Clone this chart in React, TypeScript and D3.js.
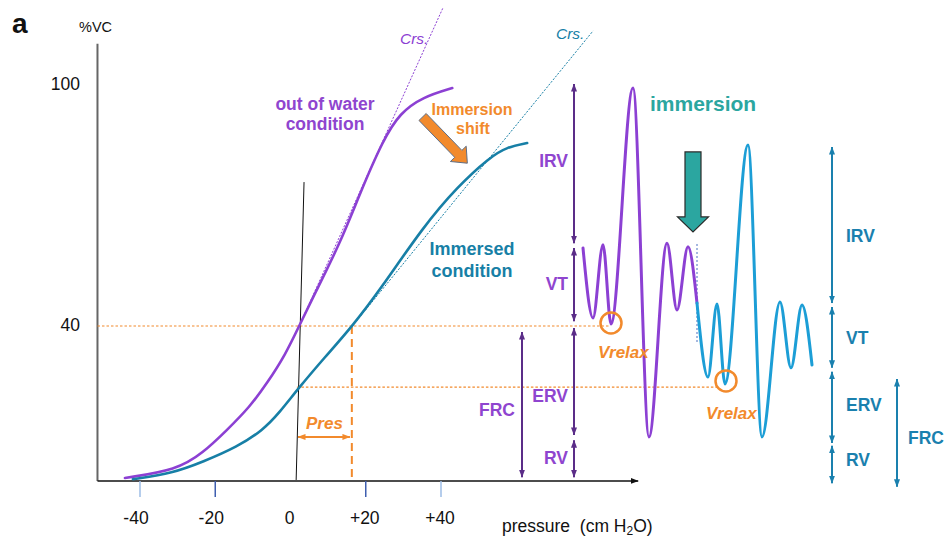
import React from 'react';
import * as d3 from 'd3';

// ---------- data ----------
const PRESSURE_OUT = [-44.0, -30.2, -23.3, -16.9, -10.8, -6.2, -1.4, 2.3, 6.0, 13.2, 18.5, 24.6, 29.1, 35.2, 43.0];
const VOLUME_OUT = [2.0, 4.0, 8.2, 13.9, 19.7, 25.6, 32.6, 39.8, 47.0, 60.4, 72.9, 86.1, 92.8, 96.8, 99.0];
const PRESSURE_IMM = [-41.9, -31.2, -23.3, -14.2, -7.3, -2.8, 2.0, 9.0, 16.3, 23.8, 35.2, 44.3, 53.0, 57.5, 62.9];
const VOLUME_IMM = [1.7, 3.2, 6.0, 9.7, 13.9, 18.4, 24.2, 31.9, 39.6, 48.8, 64.4, 74.4, 81.8, 84.3, 85.3];

const CRS_OUT_P = [2.3, 40.5];
const CRS_OUT_V = [39.8, 118.9];
const CRS_IMM_P = [16.3, 80.4];
const CRS_IMM_V = [39.6, 113.2];
const ZERO_LINE_P = [1.5, 3.6];
const ZERO_LINE_V = [1.5, 75.6];

const X_TICKS = [-40, -20, 20, 40];
const X_TICK_LABEL_VALUES = [-40, -20, 0, 20, 40];
const X_TICK_LABELS = ['-40', '-20', '0', '+20', '+40'];
const Y_TICKS = [40, 100];
const Y_TICK_LABELS = ['40', '100'];

// spirogram (time in arbitrary units, volume in %VC)
const SPIRO_OUT_T = [0, 1.0, 2.0, 2.8, 5.0, 6.6, 8.4, 9.4, 10.5, 11.4];
const SPIRO_OUT_V = [59.2, 41.8, 60.0, 40.3, 99.0, 12.2, 60.4, 43.8, 59.5, 45.5];
const SPIRO_IMM_T = [11.4, 12.5, 13.4, 14.2, 16.5, 17.9, 19.7, 20.8, 21.9, 22.9];
const SPIRO_IMM_V = [45.5, 27.1, 45.3, 25.4, 84.8, 12.2, 45.8, 29.4, 45.0, 30.1];

const VRELAX_OUT = { t: 2.8, v: 40.3 };
const VRELAX_IMM = { t: 14.2, v: 25.4 };
const RELAX_LEVEL_OUT = 39.8;
const RELAX_LEVEL_IMM = 24.6;
const PRES_P = [2.0, 15.8];
const PRES_V = 12.2;

const VOL_LABELS_OUT = ['IRV', 'VT', 'ERV', 'RV'];
const VOL_FROM_OUT = [100, 59.2, 39.3, 11.4];
const VOL_TO_OUT = [60.4, 41.0, 12.7, 2.2];
const FRC_OUT = [38.3, 2.2];
const VOL_LABELS_IMM = ['IRV', 'VT', 'ERV', 'RV'];
const VOL_FROM_IMM = [84.3, 44.5, 28.4, 10.0];
const VOL_TO_IMM = [45.5, 29.4, 10.7, 0.7];
const FRC_IMM = [26.6, -0.2];

// ---------- style ----------
const PURPLE = '#8C40D3';
const PURPLE_TXT = '#8F45CF';
const PURPLE_DARK = '#5B2D88';
const TEAL = '#177FA6';
const BLUE_SPIRO = '#1C9ED6';
const BLUE_TXT = '#1A80AE';
const ORANGE = '#F28A2C';
const IMM_GREEN = '#2BA6A0';
const FONT = '"Liberation Sans", Arial, Helvetica, sans-serif';

const W = 951;
const H = 541;

const xScale = d3.scaleLinear().domain([-40, 40]).range([140, 441]);
const yScale = d3.scaleLinear().domain([0, 100]).range([486, 84]);
const tScale = d3.scaleLinear().domain([0, 23]).range([583, 813]);

const AXIS_LEFT_P = -51.3;
const AXIS_RIGHT_P = 92.4;
const AXIS_BASE_V = 1.25;
const AXIS_TOP_V = 110;

function blockArrow(x0: number, y0: number, x1: number, y1: number, hw: number, hh: number, hl: number) {
  const dx = x1 - x0, dy = y1 - y0;
  const len = Math.hypot(dx, dy);
  const ux = dx / len, uy = dy / len;
  const nx = -uy, ny = ux;
  const bx = x1 - ux * hl, by = y1 - uy * hl;
  const pts = [
    [x0 + nx * hw, y0 + ny * hw],
    [bx + nx * hw, by + ny * hw],
    [bx + nx * hh, by + ny * hh],
    [x1, y1],
    [bx - nx * hh, by - ny * hh],
    [bx - nx * hw, by - ny * hw],
    [x0 - nx * hw, y0 - ny * hw],
  ];
  return 'M' + pts.map((p) => p.join(',')).join('L') + 'Z';
}

function mkPath(ps: number[], vs: number[], xs: (n: number) => number, curve: d3.CurveFactory) {
  return (
    d3
      .line<[number, number]>()
      .x((d) => xs(d[0]))
      .y((d) => yScale(d[1]))
      .curve(curve)(ps.map((p, i) => [p, vs[i]] as [number, number])) || ''
  );
}

export default function App() {
  const outPath = mkPath(PRESSURE_OUT, VOLUME_OUT, xScale, d3.curveBasis);
  const immPath = mkPath(PRESSURE_IMM, VOLUME_IMM, xScale, d3.curveBasis);
  const spiroOut = mkPath(SPIRO_OUT_T, SPIRO_OUT_V, tScale, d3.curveMonotoneX);
  const spiroImm = mkPath(SPIRO_IMM_T, SPIRO_IMM_V, tScale, d3.curveMonotoneX);

  const axisY = yScale(AXIS_BASE_V);
  const axisX = xScale(AXIS_LEFT_P);

  const measX_out = tScale(-0.9);
  const frcX_out = tScale(-6.1);
  const measX_imm = tScale(24.9);
  const frcX_imm = tScale(31.4);
  const outLabelDy = [-3, -1, 15, -1];
  const immLabelDy = [11, 1, -2, -4];

  const orangeArrow = blockArrow(xScale(35.1), yScale(91.8), xScale(47.0), yScale(80.3), 5, 11, 13);
  const tealArrow = blockArrow(tScale(11.0), yScale(83.1), tScale(11.0), yScale(63.2), 8, 15.5, 15);

  const bold = { fontFamily: FONT, fontWeight: 700 } as const;

  return (
    <svg
      width={W}
      height={H}
      viewBox={`0 0 ${W} ${H}`}
      style={{ position: 'absolute', left: 0, top: 0, background: '#fff' }}
    >
      <defs>
        {[
          ['ah-pd', PURPLE_DARK],
          ['ah-b', BLUE_TXT],
          ['ah-o', ORANGE],
          ['ah-k', '#111'],
        ].map(([id, c]) => (
          <marker
            key={id}
            id={id}
            viewBox="0 0 8 6"
            refX={7.5}
            refY={3}
            markerWidth={8}
            markerHeight={6}
            markerUnits="userSpaceOnUse"
            orient="auto-start-reverse"
          >
            <path d="M0,0 L8,3 L0,6 Z" fill={c} />
          </marker>
        ))}
      </defs>

      {/* panel letter */}
      <text x={12} y={33} style={{ ...bold, fontSize: 28 }} fill="#111">a</text>

      {/* axes */}
      <line x1={axisX} x2={axisX} y1={yScale(AXIS_TOP_V)} y2={axisY} stroke="#666" strokeWidth={2} />
      <line
        x1={axisX}
        x2={xScale(AXIS_RIGHT_P)}
        y1={axisY}
        y2={axisY}
        stroke="#111"
        strokeWidth={1.5}
        markerEnd="url(#ah-k)"
      />
      <text x={79} y={27} dominantBaseline="central" style={{ fontFamily: FONT, fontSize: 14.5 }} fill="#111">%VC</text>
      {Y_TICKS.map((v, i) => (
        <text
          key={v}
          x={80}
          y={yScale(v)}
          textAnchor="end"
          dominantBaseline="central"
          style={{ fontFamily: FONT, fontSize: 17.5 }}
          fill="#111"
        >
          {Y_TICK_LABELS[i]}
        </text>
      ))}
      {X_TICKS.map((p) => (
        <line
          key={p}
          x1={xScale(p)}
          x2={xScale(p)}
          y1={axisY}
          y2={axisY + 16}
          stroke={Math.abs(p) === 40 ? '#9DBDE6' : '#3F5FAF'}
          strokeWidth={1.5}
        />
      ))}
      {X_TICK_LABEL_VALUES.map((p, i) => (
        <text
          key={p}
          x={xScale(p) - (p < 0 ? 4 : 1)}
          y={518}
          textAnchor="middle"
          dominantBaseline="central"
          style={{ fontFamily: FONT, fontSize: 17.5 }}
          fill="#111"
        >
          {X_TICK_LABELS[i]}
        </text>
      ))}
      <text x={502} y={526} dominantBaseline="central" style={{ fontFamily: FONT, fontSize: 17.5 }} fill="#111">
        pressure{'\u00A0\u00A0'}(cm H<tspan fontSize={12} dy={5}>2</tspan><tspan dy={-5}>O)</tspan>
      </text>

      {/* guide lines */}
      <line
        x1={axisX}
        x2={tScale(VRELAX_OUT.t) - 1}
        y1={yScale(RELAX_LEVEL_OUT)}
        y2={yScale(RELAX_LEVEL_OUT)}
        stroke={ORANGE}
        strokeWidth={1.2}
        strokeDasharray="2.5,2"
      />
      <line
        x1={xScale(1.7)}
        x2={tScale(VRELAX_IMM.t) - 8}
        y1={yScale(RELAX_LEVEL_IMM)}
        y2={yScale(RELAX_LEVEL_IMM)}
        stroke={ORANGE}
        strokeWidth={1.2}
        strokeDasharray="2.5,2"
      />
      <line
        x1={xScale(16.3)}
        x2={xScale(16.3)}
        y1={yScale(RELAX_LEVEL_OUT)}
        y2={axisY}
        stroke={ORANGE}
        strokeWidth={2}
        strokeDasharray="8,5"
      />
      <line
        x1={xScale(ZERO_LINE_P[0])}
        x2={xScale(ZERO_LINE_P[1])}
        y1={yScale(ZERO_LINE_V[0])}
        y2={yScale(ZERO_LINE_V[1])}
        stroke="#111"
        strokeWidth={1}
      />

      {/* Crs tangents */}
      <line
        x1={xScale(CRS_OUT_P[0])}
        x2={xScale(CRS_OUT_P[1])}
        y1={yScale(CRS_OUT_V[0])}
        y2={yScale(CRS_OUT_V[1])}
        stroke={PURPLE}
        strokeWidth={1}
        strokeDasharray="2,1.5"
      />
      <line
        x1={xScale(CRS_IMM_P[0])}
        x2={xScale(CRS_IMM_P[1])}
        y1={yScale(CRS_IMM_V[0])}
        y2={yScale(CRS_IMM_V[1])}
        stroke={TEAL}
        strokeWidth={1}
        strokeDasharray="2,1.5"
      />
      <text x={400} y={38} dominantBaseline="central" style={{ fontFamily: FONT, fontStyle: 'italic', fontSize: 15.5 }} fill={PURPLE}>Crs.</text>
      <text x={556} y={33} dominantBaseline="central" style={{ fontFamily: FONT, fontStyle: 'italic', fontSize: 15.5 }} fill={TEAL}>Crs.</text>

      {/* P-V curves */}
      <path d={outPath} fill="none" stroke={PURPLE} strokeWidth={2.6} strokeLinecap="round" />
      <path d={immPath} fill="none" stroke={TEAL} strokeWidth={2.6} strokeLinecap="round" />

      {/* Pres arrow */}
      <line
        x1={xScale(PRES_P[0])}
        x2={xScale(PRES_P[1])}
        y1={yScale(PRES_V)}
        y2={yScale(PRES_V)}
        stroke={ORANGE}
        strokeWidth={2}
        markerStart="url(#ah-o)"
        markerEnd="url(#ah-o)"
      />
      <text x={306} y={423} dominantBaseline="central" style={{ ...bold, fontStyle: 'italic', fontSize: 17 }} fill={ORANGE}>Pres</text>

      {/* curve labels */}
      <text textAnchor="middle" style={{ ...bold, fontSize: 17.5 }} fill={PURPLE_TXT}>
        <tspan x={325} y={104} dominantBaseline="central">out of water</tspan>
        <tspan x={325} y={124} dominantBaseline="central">condition</tspan>
      </text>
      <text textAnchor="middle" style={{ ...bold, fontSize: 18 }} fill={TEAL}>
        <tspan x={472} y={249} dominantBaseline="central">Immersed</tspan>
        <tspan x={472} y={271} dominantBaseline="central">condition</tspan>
      </text>
      <text textAnchor="middle" style={{ ...bold, fontSize: 16 }} fill={ORANGE}>
        <tspan x={472} y={109} dominantBaseline="central">Immersion</tspan>
        <tspan x={473} y={128} dominantBaseline="central">shift</tspan>
      </text>
      <path d={orangeArrow} fill={ORANGE} stroke="#5E6E86" strokeWidth={1} />

      {/* spirograms */}
      <line
        x1={tScale(11.4)}
        x2={tScale(11.4)}
        y1={yScale(60.2)}
        y2={yScale(35.5)}
        stroke="#4A6FC0"
        strokeWidth={1}
        strokeDasharray="2,2"
      />
      <path d={spiroOut} fill="none" stroke={PURPLE} strokeWidth={3} strokeLinecap="round" />
      <path d={spiroImm} fill="none" stroke={BLUE_SPIRO} strokeWidth={3} strokeLinecap="round" />
      <circle cx={tScale(VRELAX_OUT.t)} cy={yScale(VRELAX_OUT.v) - 1} r={10.5} fill="none" stroke={ORANGE} strokeWidth={2.5} />
      <circle cx={tScale(VRELAX_IMM.t) + 1} cy={yScale(VRELAX_IMM.v) - 3} r={10.5} fill="none" stroke={ORANGE} strokeWidth={2.5} />
      <text x={598} y={352} dominantBaseline="central" style={{ ...bold, fontStyle: 'italic', fontSize: 17 }} fill={ORANGE}>Vrelax</text>
      <text x={706} y={413} dominantBaseline="central" style={{ ...bold, fontStyle: 'italic', fontSize: 17 }} fill={ORANGE}>Vrelax</text>

      <text x={650} y={103} dominantBaseline="central" style={{ ...bold, fontSize: 21 }} fill={IMM_GREEN}>immersion</text>
      <path d={tealArrow} fill={IMM_GREEN} stroke="#2a2a2a" strokeWidth={1.2} />

      {/* volume subdivisions: out of water */}
      {VOL_LABELS_OUT.map((lab, i) => (
        <g key={'o' + lab}>
          <line
            x1={measX_out}
            x2={measX_out}
            y1={yScale(VOL_FROM_OUT[i])}
            y2={yScale(VOL_TO_OUT[i])}
            stroke={PURPLE_DARK}
            strokeWidth={2}
            markerStart="url(#ah-pd)"
            markerEnd="url(#ah-pd)"
          />
          <text
            x={measX_out - 6}
            y={yScale((VOL_FROM_OUT[i] + VOL_TO_OUT[i]) / 2) + outLabelDy[i]}
            textAnchor="end"
            dominantBaseline="central"
            style={{ ...bold, fontSize: 17.5 }}
            fill={PURPLE_TXT}
          >
            {lab}
          </text>
        </g>
      ))}
      <line
        x1={frcX_out}
        x2={frcX_out}
        y1={yScale(FRC_OUT[0])}
        y2={yScale(FRC_OUT[1])}
        stroke={PURPLE_DARK}
        strokeWidth={2}
        markerStart="url(#ah-pd)"
        markerEnd="url(#ah-pd)"
      />
      <text
        x={frcX_out - 7}
        y={yScale((FRC_OUT[0] + FRC_OUT[1]) / 2) + 5}
        textAnchor="end"
        dominantBaseline="central"
        style={{ ...bold, fontSize: 17.5 }}
        fill={PURPLE_TXT}
      >
        FRC
      </text>

      {/* volume subdivisions: immersion */}
      {VOL_LABELS_IMM.map((lab, i) => (
        <g key={'i' + lab}>
          <line
            x1={measX_imm}
            x2={measX_imm}
            y1={yScale(VOL_FROM_IMM[i])}
            y2={yScale(VOL_TO_IMM[i])}
            stroke={BLUE_TXT}
            strokeWidth={2}
            markerStart="url(#ah-b)"
            markerEnd="url(#ah-b)"
          />
          <text
            x={measX_imm + 14}
            y={yScale((VOL_FROM_IMM[i] + VOL_TO_IMM[i]) / 2) + immLabelDy[i]}
            dominantBaseline="central"
            style={{ ...bold, fontSize: 17.5 }}
            fill={BLUE_TXT}
          >
            {lab}
          </text>
        </g>
      ))}
      <line
        x1={frcX_imm}
        x2={frcX_imm}
        y1={yScale(FRC_IMM[0])}
        y2={yScale(FRC_IMM[1])}
        stroke={BLUE_TXT}
        strokeWidth={2}
        markerStart="url(#ah-b)"
        markerEnd="url(#ah-b)"
      />
      <text
        x={frcX_imm + 11}
        y={yScale((FRC_IMM[0] + FRC_IMM[1]) / 2) + 5}
        dominantBaseline="central"
        style={{ ...bold, fontSize: 17.5 }}
        fill={BLUE_TXT}
      >
        FRC
      </text>
    </svg>
  );
}
